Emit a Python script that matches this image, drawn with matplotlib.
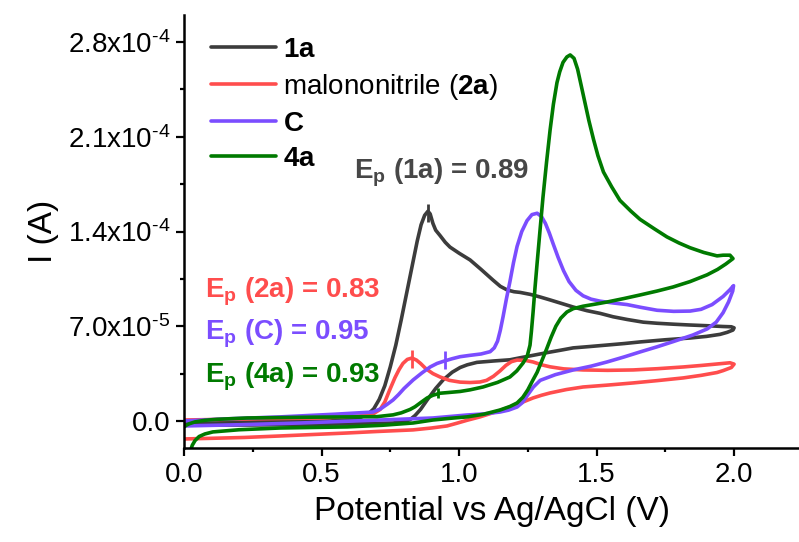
import matplotlib
matplotlib.use("Agg")
import matplotlib.pyplot as plt
import numpy as np
from matplotlib.ticker import FixedLocator, FixedFormatter, MultipleLocator

plt.rcParams['font.family'] = ['Liberation Sans', 'DejaVu Sans']
plt.rcParams['mathtext.fontset'] = 'custom'
plt.rcParams['mathtext.rm'] = 'Liberation Sans'
plt.rcParams['mathtext.it'] = 'Liberation Sans:italic'
plt.rcParams['mathtext.bf'] = 'Liberation Sans:bold'

# potential (V) and current (1e-5 A), closed CV loops
E_1a = [0.000, 0.240, 0.531, 0.600, 0.640, 0.669, 0.690, 0.710, 0.730, 0.750, 0.770, 0.790,
        0.810, 0.830, 0.848, 0.862, 0.875, 0.887, 0.895, 0.905, 0.915, 0.931, 0.950, 0.967,
        1.000, 1.040, 1.080, 1.124, 1.150, 1.175, 1.200, 1.222, 1.260, 1.295, 1.330, 1.367,
        1.415, 1.465, 1.513, 1.560, 1.611, 1.670, 1.720, 1.780, 1.840, 1.900, 1.960, 1.990,
        2.000, 1.996, 1.975, 1.949, 1.900, 1.840, 1.750, 1.658, 1.600, 1.538, 1.475, 1.415,
        1.367, 1.320, 1.269, 1.225, 1.185, 1.124, 1.065, 1.030, 1.004, 0.975, 0.942, 0.915,
        0.884, 0.860, 0.840, 0.822, 0.800, 0.760, 0.604, 0.400, 0.240, 0.000]
I_1a = [-0.15, -0.07, 0.00, 0.10, 0.25, 0.50, 0.90, 1.60, 2.60, 4.00, 5.60, 7.50,
        9.50, 11.5, 13.3, 14.5, 15.2, 15.5, 15.3, 14.6, 14.1, 13.7, 13.2, 12.85,
        12.4, 11.9, 11.2, 10.4, 9.95, 9.68, 9.55, 9.50, 9.35, 9.16, 8.95, 8.72,
        8.42, 8.15, 7.95, 7.70, 7.50, 7.30, 7.22, 7.15, 7.09, 7.04, 6.98, 6.96,
        6.88, 6.72, 6.55, 6.40, 6.25, 6.13, 6.00, 5.84, 5.72, 5.61, 5.50, 5.40,
        5.22, 5.05, 4.85, 4.68, 4.52, 4.43, 4.33, 4.15, 3.95, 3.60, 3.03, 2.40,
        1.55, 0.85, 0.40, 0.10, -0.05, -0.15, -0.22, -0.27, -0.30, -0.30]

E_2a = [0.000, 0.240, 0.495, 0.640, 0.690, 0.713, 0.730, 0.748, 0.767, 0.782, 0.796, 0.812,
        0.829, 0.845, 0.860, 0.880, 0.905, 0.931, 0.965, 1.004, 1.040, 1.076, 1.100, 1.125,
        1.149, 1.170, 1.190, 1.211, 1.240, 1.269, 1.300, 1.331, 1.380, 1.451, 1.540, 1.633,
        1.720, 1.815, 1.880, 1.938, 1.985, 2.000,
        1.990, 1.960, 1.938, 1.880, 1.815, 1.720, 1.633, 1.540, 1.451, 1.390, 1.331, 1.300,
        1.269, 1.230, 1.190, 1.149, 1.110, 1.076, 1.029, 0.990, 0.956, 0.900, 0.833, 0.700,
        0.593, 0.470, 0.349, 0.220, 0.105, 0.000]
I_2a = [0.07, 0.15, 0.22, 0.37, 0.55, 0.85, 1.40, 2.30, 3.20, 3.80, 4.25, 4.55,
        4.65, 4.50, 4.25, 3.85, 3.50, 3.25, 3.00, 2.87, 2.84, 2.88, 3.00, 3.30,
        3.70, 4.10, 4.38, 4.50, 4.48, 4.36, 4.15, 4.00, 3.85, 3.77, 3.74, 3.77,
        3.86, 3.99, 4.10, 4.21, 4.30, 4.20,
        3.95, 3.72, 3.58, 3.37, 3.18, 2.98, 2.81, 2.65, 2.51, 2.32, 2.07, 1.90,
        1.70, 1.38, 1.07, 0.78, 0.52, 0.30, 0.05, -0.18, -0.37, -0.52, -0.66, -0.78,
        -0.89, -1.00, -1.11, -1.22, -1.28, -1.33]

E_C = [0.000, 0.150, 0.349, 0.550, 0.687, 0.715, 0.740, 0.760, 0.780, 0.800, 0.833, 0.865,
       0.895, 0.920, 0.942, 0.975, 1.004, 1.040, 1.080, 1.113, 1.128, 1.140, 1.150, 1.160,
       1.172, 1.185, 1.198, 1.211, 1.228, 1.247, 1.265, 1.284, 1.300, 1.314, 1.328, 1.342,
       1.360, 1.380, 1.400, 1.425, 1.451, 1.480, 1.513, 1.560, 1.611, 1.660, 1.720, 1.780,
       1.840, 1.880, 1.920, 1.960, 1.985, 1.998,
       1.995, 1.980, 1.960, 1.935, 1.902, 1.850, 1.778, 1.720, 1.658, 1.600, 1.538, 1.480,
       1.415, 1.350, 1.295, 1.270, 1.247, 1.230, 1.211, 1.180, 1.149, 1.090, 1.029, 0.905,
       0.713, 0.422, 0.200, 0.000]
I_C = [0.00, 0.15, 0.30, 0.50, 0.66, 0.90, 1.25, 1.55, 1.95, 2.40, 3.03, 3.55,
       3.99, 4.25, 4.40, 4.60, 4.75, 4.85, 4.95, 5.12, 5.40, 5.90, 6.70, 7.70,
       9.00, 10.3, 11.7, 12.9, 14.0, 14.8, 15.25, 15.35, 15.1, 14.6, 13.9, 13.1,
       12.1, 11.1, 10.3, 9.65, 9.25, 9.00, 8.85, 8.72, 8.60, 8.40, 8.18, 8.10,
       8.12, 8.25, 8.60, 9.20, 9.70, 10.0,
       9.60, 8.80, 8.00, 7.30, 6.80, 6.35, 5.86, 5.48, 5.10, 4.73, 4.36, 4.05,
       3.77, 3.42, 3.00, 2.50, 1.85, 1.35, 1.03, 0.80, 0.66, 0.52, 0.44, 0.22,
       0.07, -0.15, -0.28, -0.37]

E_4a = [0.015, 0.022, 0.030, 0.040, 0.055, 0.076, 0.105, 0.200, 0.349, 0.593, 0.720, 0.833,
        0.905, 0.970, 1.029, 1.090, 1.149, 1.185, 1.211, 1.232, 1.250, 1.268, 1.284, 1.300,
        1.318, 1.335, 1.352, 1.370, 1.392, 1.415, 1.451, 1.500, 1.538, 1.600, 1.658, 1.720,
        1.778, 1.840, 1.902, 1.940, 1.970, 1.996,
        1.985, 1.960, 1.938, 1.890, 1.840, 1.800, 1.756, 1.710, 1.658, 1.625, 1.585, 1.555,
        1.525, 1.505, 1.489, 1.472, 1.458, 1.444, 1.431, 1.418, 1.404, 1.392, 1.378, 1.366,
        1.356, 1.343, 1.331, 1.318, 1.305, 1.294, 1.284, 1.276, 1.269, 1.263, 1.258, 1.248,
        1.233, 1.210, 1.185, 1.140, 1.087, 1.040, 1.004, 0.960, 0.931, 0.905, 0.884, 0.860,
        0.840, 0.822, 0.790, 0.760, 0.702, 0.600, 0.469, 0.229, 0.120, 0.076, 0.040, 0.020,
        0.008, 0.000]
I_4a = [-3.00, -2.30, -1.80, -1.45, -1.15, -0.96, -0.81, -0.65, -0.52, -0.44, -0.32, -0.15,
        0.07, 0.20, 0.30, 0.50, 0.81, 1.07, 1.33, 1.75, 2.30, 3.00, 3.60, 4.40,
        5.30, 6.20, 7.00, 7.60, 8.05, 8.30, 8.48, 8.65, 8.79, 9.05, 9.31, 9.60,
        9.90, 10.3, 10.8, 11.2, 11.6, 12.0,
        12.25, 12.25, 12.2, 12.45, 12.8, 13.15, 13.6, 14.2, 14.9, 15.5, 16.3, 17.3,
        18.4, 19.6, 20.8, 22.2, 23.5, 24.8, 26.0, 26.8, 27.05, 26.9, 26.5, 25.8,
        25.0, 23.4, 21.5, 19.1, 16.5, 14.0, 11.7, 9.80, 8.00, 6.60, 5.60, 4.80,
        4.29, 3.70, 3.25, 2.85, 2.51, 2.30, 2.18, 2.10, 2.05, 1.90, 1.70, 1.35,
        1.05, 0.85, 0.60, 0.45, 0.32, 0.30, 0.28, 0.22, 0.12, 0.05, -0.07, -0.20,
        -0.32, -0.44]

# peak potentials marked on the curves
peak_E = [0.887, 0.829, 0.949, 0.924]
peak_I = [15.4, 4.6, 4.5, 2.05]

labels = [r'$\mathbf{1a}$', r'malononitrile ($\mathbf{2a}$)', r'$\mathbf{C}$', r'$\mathbf{4a}$']
colors = ['#3C3C3C', '#FF4D4D', '#7B4DFF', '#007A00']
notes = [r'E$_\mathbf{p}$ (1a) = 0.89', r'E$_\mathbf{p}$ (2a) = 0.83',
         r'E$_\mathbf{p}$ (C) = 0.95', r'E$_\mathbf{p}$ (4a) = 0.93']
note_colors = ['#474747', '#FF4D4D', '#7B4DFF', '#007A00']
note_E = [0.618, 0.076, 0.076, 0.076]
note_I = [17.95, 9.16, 6.0, 2.81]

ytick_vals = [0.0, 7e-5, 1.4e-4, 2.1e-4, 2.8e-4]
ytick_text = ['0.0', r'7.0x10$^{\text{-5}}$', r'1.4x10$^{\text{-4}}$',
              r'2.1x10$^{\text{-4}}$', r'2.8x10$^{\text{-4}}$']

fig = plt.figure(figsize=(7.99, 5.42), dpi=100)
ax = fig.add_axes([0.2303, 0.1734, 0.7697, 0.7989])

curves = [(E_1a, I_1a), (E_2a, I_2a), (E_C, I_C), (E_4a, I_4a)]
for (E, I), lab, col in zip(curves, labels, colors):
    ax.plot(E, np.array(I) * 1e-5, color=col, lw=2.6, label=lab,
            solid_joinstyle='round', solid_capstyle='round')

msizes = [13, 13, 13, 7]
for e, i, col, ms in zip(peak_E, peak_I, colors, msizes):
    ax.plot([e], [i * 1e-5], marker='|', ms=ms, mew=2, color=col)

for txt, col, e, i in zip(notes, note_colors, note_E, note_I):
    ax.text(e, i * 1e-5, txt, color=col, fontsize=20, fontweight='bold',
            ha='left', va='baseline')

ax.set_xlim(0, 2.236)
ax.set_ylim(-2e-5, 3.0e-4)
ax.xaxis.set_major_locator(MultipleLocator(0.5))
ax.xaxis.set_minor_locator(MultipleLocator(0.25))
ax.yaxis.set_major_locator(FixedLocator(ytick_vals))
ax.yaxis.set_major_formatter(FixedFormatter(ytick_text))
ax.yaxis.set_minor_locator(MultipleLocator(3.5e-5))

for s in ['top', 'right']:
    ax.spines[s].set_visible(False)
for s in ['left', 'bottom']:
    ax.spines[s].set_linewidth(1.8)
ax.tick_params(which='major', length=6, width=1.6, labelsize=20, pad=4)
ax.tick_params(which='minor', length=3, width=1.6)

ax.set_xlabel('Potential vs Ag/AgCl (V)', fontsize=24, labelpad=6)
ax.set_ylabel('I (A)', fontsize=24, labelpad=6)

ax.legend(loc='upper left', bbox_to_anchor=(0.044, 0.95), frameon=False, fontsize=20,
          handlelength=2.35, handletextpad=0.25, labelspacing=0.33, borderpad=0,
          borderaxespad=0)

fig.savefig('out.png', dpi=100)
